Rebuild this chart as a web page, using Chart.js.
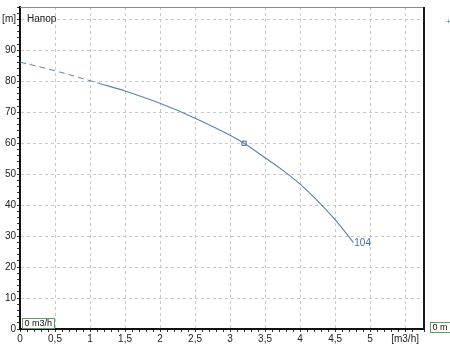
<!DOCTYPE html>
<html>
<head>
<meta charset="utf-8">
<script src="https://cdn.jsdelivr.net/npm/chart.js@4/dist/chart.umd.min.js"></script>
<style>
    html, body { margin: 0; padding: 0; background: #fff; }
    #wrap { width: 450px; height: 345px; }
</style>
</head>
<body>
<div id="wrap"><canvas id="pumpChart" width="450" height="345"></canvas></div>
<script>
// Head curve (flow in m3/h, head in m)
const flowDashed = [0, 0.5, 1.0, 1.15];
const headDashed = [86.2, 83.4, 80.2, 79.2];
const flowCurve = [1.15, 1.5, 2.0, 2.5, 3.0, 3.2, 3.5, 3.75, 4.0, 4.25, 4.5, 4.76];
const headCurve = [79.2, 76.9, 72.9, 68.1, 62.6, 60.0, 55.3, 51.3, 46.8, 41.4, 35.3, 28.0];
const dutyFlow = [3.2];
const dutyHead = [60];
const curveLabel = '104';
const seriesTitle = 'Напор';

// Tick labels
const xTickValues = [0, 0.5, 1, 1.5, 2, 2.5, 3, 3.5, 4, 4.5, 5, 5.5];
const xTickLabels = ['0', '0,5', '1', '1,5', '2', '2,5', '3', '3,5', '4', '4,5', '5', '[m3/h]'];
const yTickValues = [0, 10, 20, 30, 40, 50, 60, 70, 80, 90, 100];
const yTickLabels = ['0', '10', '20', '30', '40', '50', '60', '70', '80', '90', '[m]'];

const FONT = '"Liberation Sans", Arial, sans-serif';
const CURVE_COLOR = '#5b7fbc';
const GRID_COLOR = '#c9c9c9';

function toPoints(xs, ys) {
    return xs.map((v, i) => ({ x: v, y: ys[i] }));
}

function findLabel(values, labels, v) {
    const i = values.findIndex(t => Math.abs(t - v) < 1e-6);
    return i < 0 ? '' : labels[i];
}

function isMajor(values, v) {
    return values.some(t => t !== 0 && Math.abs(t - v) < 1e-6);
}

function drawBox(ctx, text, left, top) {
    ctx.font = '9px ' + FONT;
    const w = Math.ceil(ctx.measureText(text).width) + 4;
    ctx.fillStyle = '#fff';
    ctx.fillRect(left, top, w, 10);
    ctx.strokeStyle = '#5f9f62';
    ctx.lineWidth = 1;
    ctx.strokeRect(left + 0.5, top + 0.5, w, 10);
    ctx.fillStyle = '#111';
    ctx.textBaseline = 'middle';
    ctx.textAlign = 'left';
    ctx.fillText(text, left + 2.5, top + 6);
}

const overlay = {
    id: 'overlay',
    afterDraw(chart) {
        const { ctx, chartArea: a, scales: { x, y } } = chart;
        ctx.save();

        // top and right frame
        ctx.strokeStyle = '#8a8a8a';
        ctx.lineWidth = 1;
        ctx.beginPath();
        ctx.moveTo(a.left, a.top + 0.5);
        ctx.lineTo(a.right, a.top + 0.5);
        ctx.stroke();
        ctx.strokeStyle = '#1a1a1a';
        ctx.lineWidth = 2;
        ctx.beginPath();
        ctx.moveTo(a.right, a.top);
        ctx.lineTo(a.right, a.bottom + 1);
        ctx.stroke();

        // series title
        ctx.font = '10px ' + FONT;
        ctx.fillStyle = '#222';
        ctx.textBaseline = 'middle';
        ctx.fillText(seriesTitle, a.left + 7, y.getPixelForValue(100));

        // label at the end of the curve
        const n = flowCurve.length - 1;
        ctx.fillStyle = '#4a6ea8';
        ctx.fillText(curveLabel, x.getPixelForValue(flowCurve[n]) + 1, y.getPixelForValue(headCurve[n]) + 1);

        // readout boxes
        drawBox(ctx, '0 m3/h', a.left + 2, a.bottom - 11);
        drawBox(ctx, '0 m', a.right + 6, a.bottom - 7);

        // small cursor mark
        ctx.font = '8px ' + FONT;
        ctx.fillStyle = '#4a6ea8';
        ctx.fillText('+', a.right + 22, a.top + 15);

        ctx.restore();
    }
};

new Chart(document.getElementById('pumpChart'), {
    type: 'line',
    data: {
        datasets: [
            {
                data: toPoints(flowDashed, headDashed),
                borderColor: CURVE_COLOR,
                borderWidth: 1,
                borderDash: [6, 4],
                pointRadius: 0,
                tension: 0.4
            },
            {
                data: toPoints(flowCurve, headCurve),
                borderColor: CURVE_COLOR,
                borderWidth: 1.1,
                pointRadius: 0,
                cubicInterpolationMode: 'monotone'
            },
            {
                data: toPoints(dutyFlow, dutyHead),
                showLine: false,
                pointStyle: 'rect',
                pointRadius: 3,
                backgroundColor: '#fff',
                borderColor: '#3f5f99',
                borderWidth: 1
            }
        ]
    },
    options: {
        responsive: false,
        animation: false,
        events: [],
        layout: { padding: { top: 4, right: 26, bottom: 0, left: 0 } },
        plugins: {
            legend: { display: false },
            tooltip: { enabled: false }
        },
        scales: {
            x: {
                type: 'linear',
                min: 0,
                max: 5.77,
                afterFit: s => { s.height = 16; },
                border: { color: '#111', width: 2, dash: [3, 3] },
                grid: {
                    color: c => isMajor(xTickValues, c.tick.value) ? GRID_COLOR : 'rgba(0,0,0,0)',
                    tickColor: '#333',
                    tickLength: 3,
                    lineWidth: 1
                },
                ticks: {
                    stepSize: 0.1,
                    autoSkip: false,
                    maxRotation: 0,
                    padding: 1,
                    color: '#222',
                    font: { family: FONT, size: 10 },
                    callback: v => findLabel(xTickValues, xTickLabels, v)
                }
            },
            y: {
                type: 'linear',
                min: 0,
                max: 104,
                afterFit: s => { s.width = 20; },
                border: { color: '#111', width: 2, dash: [3, 3] },
                grid: {
                    color: c => isMajor(yTickValues, c.tick.value) ? GRID_COLOR : 'rgba(0,0,0,0)',
                    tickColor: '#333',
                    tickLength: 3,
                    lineWidth: 1
                },
                ticks: {
                    stepSize: 2,
                    autoSkip: false,
                    padding: 1,
                    color: '#222',
                    font: { family: FONT, size: 10 },
                    callback: v => findLabel(yTickValues, yTickLabels, v)
                }
            }
        }
    },
    plugins: [overlay]
});
</script>
</body>
</html>
